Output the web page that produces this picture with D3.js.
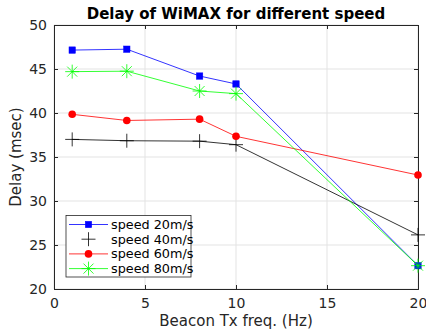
<!DOCTYPE html>
<html>
<head>
<meta charset="utf-8">
<script src="https://cdn.jsdelivr.net/npm/d3@7"></script>
<style>
  body { margin: 0; background: #fff; }
  svg { display: block; font-family: "DejaVu Sans", sans-serif; }
</style>
</head>
<body>
<svg id="chart" width="426" height="333"></svg>
<script>
const freqs = [1, 4, 8, 10, 20];
const speed20 = [47.15, 47.25, 44.2, 43.3, 22.65];
const speed40 = [37.0, 36.85, 36.8, 36.4, 26.15];
const speed60 = [39.85, 39.15, 39.3, 37.35, 32.95];
const speed80 = [44.7, 44.75, 42.5, 42.2, 22.65];
const xTicks = [0, 5, 10, 15, 20];
const yTicks = [20, 25, 30, 35, 40, 45, 50];

const series = [
  { name: 'speed 20m/s', values: speed20, color: '#0000ff', marker: 'square' },
  { name: 'speed 40m/s', values: speed40, color: '#000000', marker: 'plus' },
  { name: 'speed 60m/s', values: speed60, color: '#ff0000', marker: 'circle' },
  { name: 'speed 80m/s', values: speed80, color: '#00ff00', marker: 'star' }
];

const svg = d3.select('#chart');
const m = { left: 54, right: 8, top: 25, bottom: 44 };
const W = 426, H = 333;
const x = d3.scaleLinear().domain([0, 20]).range([m.left, W - m.right]);
const y = d3.scaleLinear().domain([20, 50]).range([H - m.bottom, m.top]);

// grid
svg.append('g').selectAll('line.gx').data(xTicks).enter().append('line')
  .attr('x1', d => x(d)).attr('x2', d => x(d))
  .attr('y1', y(20)).attr('y2', y(50))
  .attr('stroke', '#e3e3e3').attr('stroke-width', 1);
svg.append('g').selectAll('line.gy').data(yTicks).enter().append('line')
  .attr('x1', x(0)).attr('x2', x(20))
  .attr('y1', d => y(d)).attr('y2', d => y(d))
  .attr('stroke', '#e3e3e3').attr('stroke-width', 1);

// axes
svg.append('g').attr('transform', `translate(0,${y(20)})`)
  .call(d3.axisBottom(x).tickValues(xTicks).tickSize(-4).tickPadding(9));
svg.append('g').attr('transform', `translate(${x(0)},0)`)
  .call(d3.axisLeft(y).tickValues(yTicks).tickSize(-4).tickPadding(7));
svg.append('g').attr('transform', `translate(0,${y(50)})`)
  .call(d3.axisTop(x).tickValues(xTicks).tickSize(-4).tickFormat(''));
svg.append('g').attr('transform', `translate(${x(20)},0)`)
  .call(d3.axisRight(y).tickValues(yTicks).tickSize(-4).tickFormat(''));
svg.selectAll('.domain').attr('stroke', '#262626');
svg.selectAll('.tick line').attr('stroke', '#262626');
svg.selectAll('.tick text').attr('fill', '#262626').style('font-size', '14px').style('font-family', '"DejaVu Sans", sans-serif');

// titles
svg.append('text').attr('x', 236).attr('y', 19)
  .attr('text-anchor', 'middle').attr('font-weight', 'bold').attr('font-size', '15px')
  .attr('fill', '#000').text('Delay of WiMAX for different speed');
svg.append('text').attr('x', (x(0) + x(20)) / 2).attr('y', 326)
  .attr('text-anchor', 'middle').attr('font-size', '15px').attr('fill', '#262626')
  .text('Beacon Tx freq. (Hz)');
svg.append('text').attr('transform', `translate(21,${(y(20) + y(50)) / 2}) rotate(-90)`)
  .attr('text-anchor', 'middle').attr('font-size', '15px').attr('fill', '#262626')
  .text('Delay (msec)');

function drawMarker(g, type, color) {
  if (type === 'square') {
    g.append('rect').attr('x', -3.2).attr('y', -3.2).attr('width', 6.4).attr('height', 6.4)
      .attr('fill', color).attr('stroke', color).attr('stroke-width', 0.5);
  } else if (type === 'circle') {
    g.append('circle').attr('r', 3.8).attr('fill', color);
  } else if (type === 'plus') {
    g.append('path').attr('d', 'M-7,0H7M0,-7V7').attr('stroke', color).attr('stroke-width', 0.8);
  } else if (type === 'star') {
    g.append('path').attr('d', 'M-7,0H7M0,-7V7M-5,-5L5,5M-5,5L5,-5')
      .attr('stroke', color).attr('stroke-width', 0.8);
  }
}

const line = d3.line().x(d => x(d[0])).y(d => y(d[1]));
series.forEach(s => {
  const pts = freqs.map((f, i) => [f, s.values[i]]);
  svg.append('path').datum(pts).attr('d', line)
    .attr('fill', 'none').attr('stroke', s.color).attr('stroke-width', 0.8);
  pts.forEach(p => {
    const g = svg.append('g').attr('transform', `translate(${x(p[0])},${y(p[1])})`);
    drawMarker(g, s.marker, s.color);
  });
});

// legend
const lg = svg.append('g');
lg.append('rect').attr('x', 66).attr('y', 215.5).attr('width', 125).attr('height', 61.5)
  .attr('fill', '#fff').attr('stroke', '#262626').attr('stroke-width', 0.8);
series.forEach((s, i) => {
  const ly = 224.5 + i * 14.7;
  if (s.marker !== 'plus') {
    lg.append('line').attr('x1', 69).attr('x2', 108).attr('y1', ly).attr('y2', ly)
      .attr('stroke', s.color).attr('stroke-width', 0.8);
  }
  const g = lg.append('g').attr('transform', `translate(88.5,${ly})`);
  drawMarker(g, s.marker, s.color);
  lg.append('text').attr('x', 111).attr('y', ly + 4.5).attr('font-size', '12.8px')
    .attr('fill', '#000').text(s.name);
});
</script>
</body>
</html>
